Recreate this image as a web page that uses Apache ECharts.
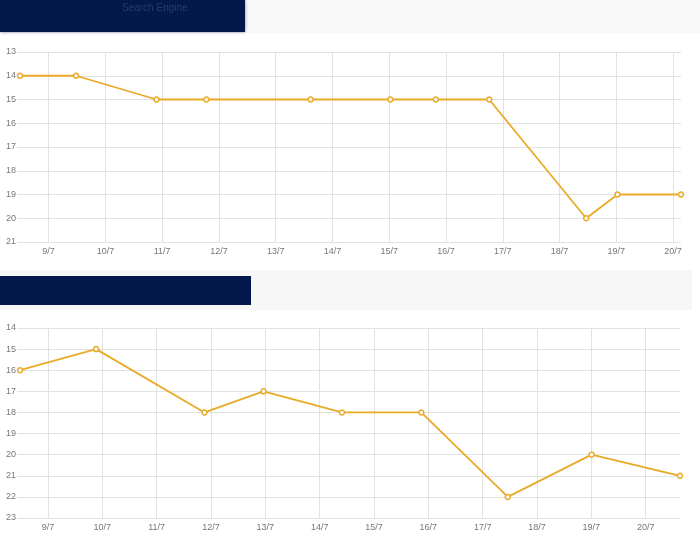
<!DOCTYPE html>
<html>
<head>
  <meta charset="UTF-8">
  <title>Rank history</title>
  <script src="https://cdn.jsdelivr.net/npm/echarts@6/dist/echarts.min.js"></script>
  <style>
    html, body { margin: 0; padding: 0; background: #fff; }
  </style>
</head>
<body>
  <div id="chart" style="width: 700px; height: 544px"></div>
  <script>
    // top chart: date/time of each check and the position found
    const topTimes = ['2019-07-08 11:54', '2019-07-09 11:36', '2019-07-10 21:36', '2019-07-11 18:43',
      '2019-07-13 14:46', '2019-07-15 00:30', '2019-07-15 19:40', '2019-07-16 18:15',
      '2019-07-18 11:15', '2019-07-19 00:30', '2019-07-20 03:20'];
    const topValues = [14, 14, 15, 15, 15, 15, 15, 15, 20, 19, 19];
    const topRange = [13, 21];

    // bottom chart
    const bottomTimes = ['2019-07-08 11:37', '2019-07-09 21:13', '2019-07-11 21:07', '2019-07-12 23:12',
      '2019-07-14 09:50', '2019-07-15 20:53', '2019-07-17 11:05', '2019-07-19 00:07',
      '2019-07-20 15:10'];
    const bottomValues = [16, 15, 18, 17, 18, 18, 22, 20, 21];
    const bottomRange = [14, 23];

    const bannerText = 'Search Engine';

    const DAY = 24 * 3600 * 1000;
    const lineColor = '#e9aa28';
    const gridColor = '#e2e2e2';
    const navy = '#03184b';

    const pairs = (times, vals) => times.map((t, i) => [t, vals[i]]);

    function xAxisFor(gridIndex) {
      return {
        type: 'time',
        gridIndex: gridIndex,
        min: 'dataMin',
        max: 'dataMax',
        minInterval: DAY,
        maxInterval: DAY,
        axisLine: { show: false },
        axisTick: { show: false },
        splitLine: { show: true, showMinLine: false, showMaxLine: false, lineStyle: { color: gridColor, width: 1 } },
        axisLabel: {
          showMinLabel: false,
          showMaxLabel: false,
          color: '#777',
          fontSize: 9,
          fontFamily: 'Liberation Sans',
          margin: 5,
          formatter: function (v) {
            const d = new Date(v);
            if (d.getHours() !== 0 || d.getMinutes() !== 0) return '';
            return d.getDate() + '/' + (d.getMonth() + 1);
          }
        }
      };
    }

    function yAxisFor(gridIndex, range) {
      return {
        type: 'value',
        gridIndex: gridIndex,
        inverse: true,
        min: range[0],
        max: range[1],
        interval: 1,
        axisLine: { show: false },
        axisTick: { show: true, length: 3, lineStyle: { color: gridColor } },
        splitLine: { lineStyle: { color: gridColor, width: 1 } },
        axisLabel: { color: '#777', fontSize: 9, fontFamily: 'Liberation Sans', margin: 4 }
      };
    }

    function lineSeries(idx, data) {
      return {
        type: 'line',
        xAxisIndex: idx,
        yAxisIndex: idx,
        data: data,
        symbol: 'circle',
        symbolSize: 5,
        showAllSymbol: true,
        clip: false,
        lineStyle: { color: lineColor, width: 1.8 },
        itemStyle: { color: '#fff', borderColor: lineColor, borderWidth: 1.5 },
        animation: false
      };
    }

    const myChart = echarts.init(document.getElementById('chart'));
    const option = {
      animation: false,
      backgroundColor: '#fff',
      grid: [
        { left: 20, right: 19, top: 52, height: 190, containLabel: false },
        { left: 20, right: 20, top: 328, height: 190, containLabel: false }
      ],
      xAxis: [xAxisFor(0), xAxisFor(1)],
      yAxis: [yAxisFor(0, topRange), yAxisFor(1, bottomRange)],
      series: [
        lineSeries(0, pairs(topTimes, topValues)),
        lineSeries(1, pairs(bottomTimes, bottomValues))
      ],
      graphic: [
        // header strips
        { type: 'rect', z: -1, shape: { x: 0, y: 0, width: 700, height: 33 }, style: { fill: '#f8f8f8' } },
        { type: 'rect', shape: { x: 0, y: 0, width: 245, height: 32 }, style: { fill: navy, shadowBlur: 3, shadowColor: 'rgba(3,24,75,0.5)' } },
        { type: 'text', x: 122, y: 3, style: { text: bannerText, fill: '#2b3b66', font: '10px Liberation Sans' } },
        { type: 'rect', z: -1, shape: { x: 0, y: 270, width: 692, height: 40 }, style: { fill: '#f7f7f7' } },
        { type: 'rect', shape: { x: 0, y: 276, width: 251, height: 29 }, style: { fill: navy } }
      ]
    };
    myChart.setOption(option);
  </script>
</body>
</html>
